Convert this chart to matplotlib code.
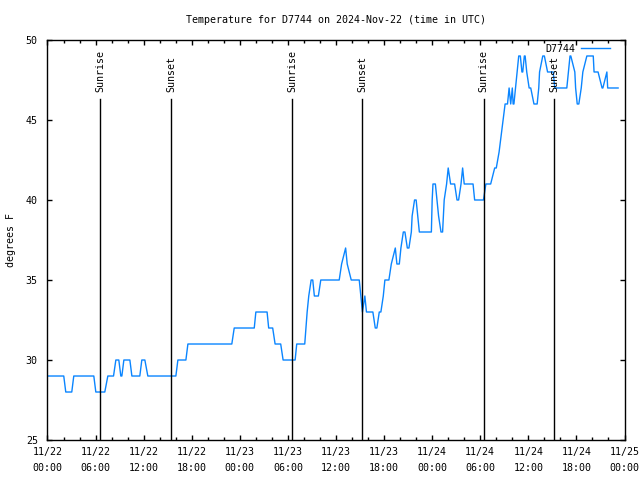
import pandas as pd
import matplotlib
matplotlib.use('Agg')
import matplotlib.pyplot as plt
import matplotlib.dates as mdates

# Données (heures depuis 2024-11-22 00:00 UTC, degrés F)
start = pd.Timestamp('2024-11-22 00:00')
hours = [0.0, 2.03, 2.28, 3.03, 3.28, 5.78, 6.03, 7.15, 7.53, 8.24, 8.53, 8.9,
         9.15, 9.28, 9.53, 10.28, 10.53, 11.52, 11.77, 12.15, 12.52, 16.02, 16.27,
         17.27, 17.52, 23.0, 23.3, 25.8, 26.0, 27.4, 27.6, 28.1, 28.4, 29.1, 29.4,
         30.9, 31.1, 32.1, 32.4, 32.6, 32.9, 33.1, 33.3, 33.8, 34.1, 36.4, 36.7,
         37.2, 37.4, 37.9, 38.9, 39.1, 39.3, 39.6, 39.8, 40.6, 40.9, 41.1, 41.4,
         41.6, 41.9, 42.1, 42.6, 42.9, 43.4, 43.6, 43.9, 44.1, 44.4, 44.6, 44.9,
         45.1, 45.4, 45.5, 45.8, 46.0, 46.4, 47.9, 48.0, 48.1, 48.4, 48.6, 48.8,
         49.1, 49.3, 49.5, 49.8, 50.0, 50.3, 50.8, 51.1, 51.3, 51.6, 51.8, 52.0,
         53.1, 53.3, 54.4, 54.7, 55.3, 55.8, 56.0, 56.35, 56.6, 56.85, 57.1, 57.4,
         57.6, 57.8, 58.0, 58.1, 58.2, 58.4, 58.6, 58.8, 59.0, 59.2, 59.3, 59.5,
         59.6, 59.8, 60.1, 60.3, 60.7, 61.1, 61.3, 61.4, 61.8, 62.0, 62.4, 63.1,
         63.3, 64.8, 65.0, 65.2, 65.3, 65.8, 65.9, 66.1, 66.3, 66.6, 66.8, 67.3,
         68.1, 68.2, 68.7, 69.2, 69.3, 69.8, 69.9, 71.2]
temps = [29, 29, 28, 28, 29, 29, 28, 28, 29, 29, 30, 30,
         29, 29, 30, 30, 29, 29, 30, 30, 29, 29, 30,
         30, 31, 31, 32, 32, 33, 33, 32, 32, 31, 31, 30,
         30, 31, 31, 33, 34, 35, 35, 34, 34, 35, 35, 36,
         37, 36, 35, 35, 34, 33, 34, 33, 33, 32, 32, 33,
         33, 34, 35, 35, 36, 37, 36, 36, 37, 38, 38, 37,
         37, 38, 39, 40, 40, 38, 38, 40, 41, 41, 40, 39,
         38, 38, 40, 41, 42, 41, 41, 40, 40, 41, 42, 41,
         41, 40, 40, 41, 41, 42, 42, 43, 44, 45, 46, 46,
         47, 46, 47, 46, 46, 47, 48, 49, 49, 48, 48, 49,
         49, 48, 47, 47, 46, 46, 47, 48, 49, 49, 48, 48,
         47, 47, 48, 49, 49, 48, 47, 46, 46, 47, 48, 49,
         49, 48, 48, 47, 47, 48, 47, 47]

# Lever / coucher du soleil (heures)
sun_hours = [6.55, 15.4, 30.5, 39.25, 54.45, 63.2]
sun_labels = ['Sunrise', 'Sunset', 'Sunrise', 'Sunset', 'Sunrise', 'Sunset']

df = pd.DataFrame({'Time': start + pd.to_timedelta(hours, unit='h'), 'Temp': temps})

plt.rcParams['font.family'] = ['DejaVu Sans Mono']
fs = 7.2

fig = plt.figure(figsize=(6.4, 4.8), dpi=100)
ax = fig.add_axes([0.0742, 0.0833, 0.9016, 0.8334])

ax.plot(df['Time'], df['Temp'], color='#0a85ff', lw=1.0, label='D7744')

for h, lab in zip(sun_hours, sun_labels):
    t = start + pd.Timedelta(hours=h)
    ax.plot([t, t], [25, 46.3], color='black', lw=1.0)
    ax.text(t, 46.72, lab, rotation=90, ha='center', va='bottom', fontsize=fs)

ax.set_xlim(start, start + pd.Timedelta(hours=72))
ax.set_ylim(25, 50)
ax.set_yticks([25, 30, 35, 40, 45, 50])

ax.xaxis.set_major_locator(mdates.HourLocator(byhour=range(0, 24, 6)))
ax.xaxis.set_minor_locator(mdates.HourLocator(byhour=range(0, 24, 2)))
ax.xaxis.set_major_formatter(mdates.DateFormatter('%m/%d\n%H:%M'))

ax.tick_params(which='both', direction='in', top=True, right=True, width=1.0,
               labelsize=fs, color='black')
ax.tick_params(which='major', length=3.6, pad=5)
ax.tick_params(which='minor', length=2.0)
ax.tick_params(axis='y', pad=7)
for lbl in ax.get_xticklabels():
    lbl.set_linespacing(1.7)
for sp in ax.spines.values():
    sp.set_linewidth(1.0)

ax.set_title('Temperature for D7744 on 2024-Nov-22 (time in UTC)', fontsize=fs, pad=12)
fig.text(0.017, 0.5, 'degrees F', rotation=90, ha='center', va='center', fontsize=fs)

ax.legend(loc='upper right', bbox_to_anchor=(0.9818, 1.0), frameon=False,
          markerfirst=False, fontsize=fs, handlelength=2.9, handletextpad=0.6,
          borderaxespad=0)

plt.savefig('out.png', dpi=100)
